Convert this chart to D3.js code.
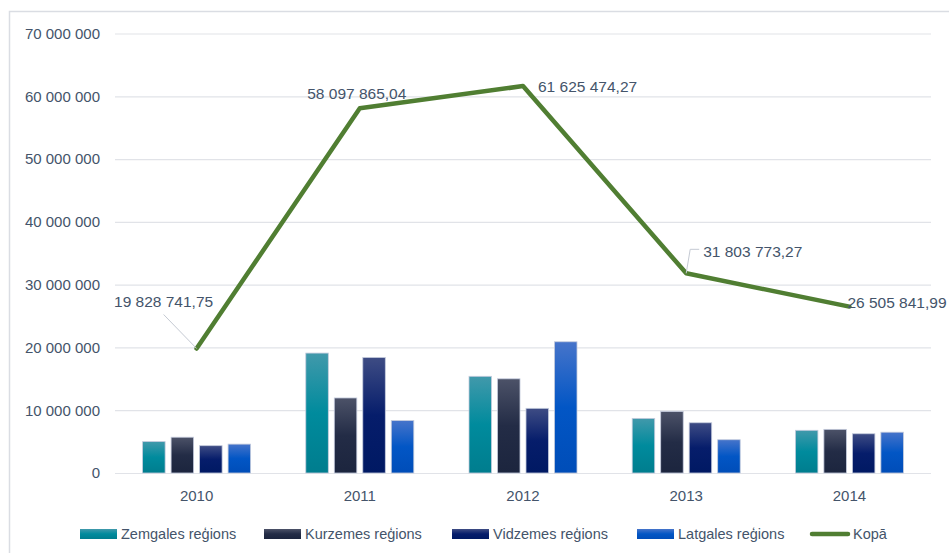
<!DOCTYPE html>
<html>
<head>
<meta charset="utf-8">
<script src="https://cdn.jsdelivr.net/npm/d3@7"></script>
<style>
  body { margin: 0; background: #fff; }
  svg { display: block; font-family: "Liberation Sans", Arial, sans-serif; }
</style>
</head>
<body>
<div class="chart"></div>
<script>
// data
var years = ["2010", "2011", "2012", "2013", "2014"];
var seriesNames = ["Zemgales reģions", "Kurzemes reģions", "Vidzemes reģions", "Latgales reģions"];
var zemgale = [5000000, 19100000, 15400000, 8700000, 6800000];
var kurzeme = [5700000, 11950000, 15000000, 9800000, 6950000];
var vidzeme = [4350000, 18400000, 10300000, 8000000, 6250000];
var latgale = [4600000, 8350000, 20900000, 5300000, 6500000];
var kopa = [19828741.75, 58097865.04, 61625474.27, 31803773.27, 26505841.99];
var lineName = "Kopā";
var yTicks = [0, 10000000, 20000000, 30000000, 40000000, 50000000, 60000000, 70000000];

var barSeries = [zemgale, kurzeme, vidzeme, latgale];

// colours: [top, middle, bottom] for each bar series
var gradColors = [
    ["#4199ab", "#008b9d", "#007d8e"],
    ["#4c5268", "#232c46", "#1c253e"],
    ["#3e4c84", "#061d6b", "#001963"],
    ["#4674ca", "#0256c5", "#004db8"]
];
var lineColor = "#507e32";
var textColor = "#44546a";

var W = 949, H = 553;
var plotLeft = 115, plotRight = 931;

var svg = d3.select(".chart").append("svg")
    .attr("width", W)
    .attr("height", H);

var defs = svg.append("defs");
gradColors.forEach(function (c, i) {
    var g = defs.append("linearGradient")
        .attr("id", "grad" + i)
        .attr("x1", 0).attr("y1", 0).attr("x2", 0).attr("y2", 1);
    g.append("stop").attr("offset", "0%").attr("stop-color", c[0]);
    g.append("stop").attr("offset", "50%").attr("stop-color", c[1]);
    g.append("stop").attr("offset", "100%").attr("stop-color", c[2]);
});

// outer frame
svg.append("rect")
    .attr("x", 9.5).attr("y", 11.5)
    .attr("width", W + 10).attr("height", H + 10)
    .attr("fill", "none")
    .attr("stroke", "#dadde3")
    .attr("stroke-width", 1.5);

// scales
var y = d3.scaleLinear()
    .domain([0, 70000000])
    .range([473, 33.5]);

var x0 = d3.scaleBand()
    .domain(years)
    .range([plotLeft, plotRight]);

var x1 = d3.scaleBand()
    .domain(d3.range(barSeries.length))
    .range([-54, 54])
    .paddingInner(0.21);

var locale = d3.formatLocale({ decimal: ",", thousands: "\u00a0", grouping: [3], currency: ["", ""] });
var fmtTick = locale.format(",.0f");
var fmtLabel = locale.format(",.2f");

// gridlines + y labels
var yAxis = svg.append("g")
    .attr("transform", "translate(" + plotLeft + ",0)")
    .call(d3.axisLeft(y)
        .tickValues(yTicks)
        .tickSize(-(plotRight - plotLeft))
        .tickPadding(15)
        .tickFormat(fmtTick));
yAxis.select(".domain").remove();
yAxis.selectAll(".tick line")
    .attr("stroke", "#e1e3e8")
    .attr("stroke-width", 1.2);
yAxis.selectAll(".tick text")
    .attr("fill", textColor)
    .style("font-size", "15px");

// x labels
var xAxis = svg.append("g")
    .attr("transform", "translate(0," + y(0) + ")")
    .call(d3.axisBottom(x0).tickSize(0).tickPadding(17));
xAxis.select(".domain").remove();
xAxis.selectAll(".tick text")
    .attr("fill", textColor)
    .style("font-size", "15px");

// bars
barSeries.forEach(function (values, si) {
    svg.append("g")
        .selectAll("rect")
        .data(values)
        .enter().append("rect")
        .attr("x", function (d, i) { return x0(years[i]) + x0.bandwidth() / 2 + x1(si); })
        .attr("y", function (d) { return y(d); })
        .attr("width", x1.bandwidth())
        .attr("height", function (d) { return y(0) - y(d); })
        .attr("fill", "url(#grad" + si + ")")
        .attr("stroke", "#c4cbdd")
        .attr("stroke-width", 0.8);
});

// total line
var cx = function (i) { return x0(years[i]) + x0.bandwidth() / 2; };
var line = d3.line()
    .x(function (d, i) { return cx(i); })
    .y(function (d) { return y(d); });

svg.append("path")
    .datum(kopa)
    .attr("d", line)
    .attr("fill", "none")
    .attr("stroke", lineColor)
    .attr("stroke-width", 4.5)
    .attr("stroke-linejoin", "round")
    .attr("stroke-linecap", "round");

// data labels: offset from point, anchor, optional leader line
var labelLayout = [
    { dx: -33, dy: -47, anchor: "middle", leader: [[-33, -34], [0, 0]] },
    { dx: -3, dy: -15, anchor: "middle" },
    { dx: 15, dy: 0, anchor: "start" },
    { dx: 17, dy: -22, anchor: "start", leader: [[0, 0], [4, -24], [13, -24]] },
    { dx: -2, dy: -4.5, anchor: "start" }
];

kopa.forEach(function (v, i) {
    var px = cx(i), py = y(v), L = labelLayout[i];
    if (L.leader) {
        svg.append("path")
            .attr("d", d3.line()(L.leader.map(function (p) { return [px + p[0], py + p[1]]; })))
            .attr("fill", "none")
            .attr("stroke", "#c5cad3")
            .attr("stroke-width", 1);
    }
    svg.append("text")
        .attr("x", px + L.dx)
        .attr("y", py + L.dy)
        .attr("dy", "0.35em")
        .attr("text-anchor", L.anchor)
        .attr("fill", textColor)
        .style("font-size", "15.5px")
        .text(fmtLabel(v));
});

// legend
var legendX = [80, 264, 452, 637];
var legend = svg.append("g");
seriesNames.forEach(function (name, i) {
    legend.append("rect")
        .attr("x", legendX[i]).attr("y", 529)
        .attr("width", 37).attr("height", 10)
        .attr("fill", "url(#grad" + i + ")");
    legend.append("text")
        .attr("x", legendX[i] + 41).attr("y", 534)
        .attr("dy", "0.35em")
        .attr("fill", textColor)
        .style("font-size", "14.5px")
        .text(name);
});
legend.append("line")
    .attr("x1", 812).attr("x2", 848)
    .attr("y1", 534).attr("y2", 534)
    .attr("stroke", lineColor)
    .attr("stroke-width", 4.5)
    .attr("stroke-linecap", "round");
legend.append("text")
    .attr("x", 853).attr("y", 534)
    .attr("dy", "0.35em")
    .attr("fill", textColor)
    .style("font-size", "14.5px")
    .text(lineName);
</script>
</body>
</html>
